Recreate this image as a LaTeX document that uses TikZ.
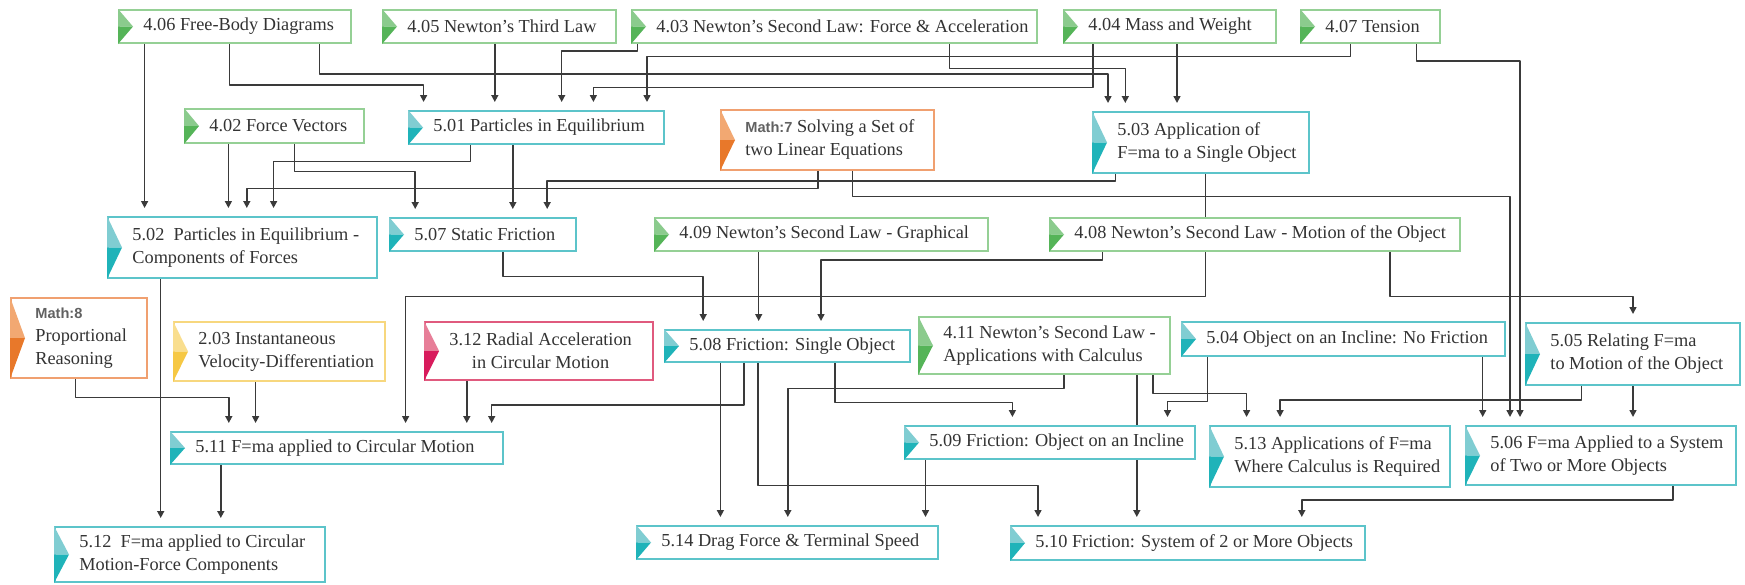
\documentclass[tikz,border=0pt]{standalone}
\usepackage{fontspec}
\setmainfont{Liberation Serif}
\newfontfamily\msans{Liberation Sans}
\usetikzlibrary{fit,arrows.meta,backgrounds}
\definecolor{txt}{HTML}{333333}
\definecolor{lnk}{HTML}{3A3A3A}
\definecolor{gb}{HTML}{95D095}\definecolor{gt}{HTML}{8BCB8D}\definecolor{gd}{HTML}{55B458}
\definecolor{tb}{HTML}{5CC4CA}\definecolor{tt}{HTML}{80CDD2}\definecolor{td}{HTML}{1FB3B9}
\definecolor{ob}{HTML}{F0A070}\definecolor{ot}{HTML}{F2A872}\definecolor{od}{HTML}{E8782A}
\definecolor{yb}{HTML}{F7D77E}\definecolor{yt}{HTML}{F9DE8E}\definecolor{yd}{HTML}{F6C844}
\definecolor{pb}{HTML}{E05A7E}\definecolor{pt}{HTML}{E77E98}\definecolor{pd}{HTML}{D81B5C}
\newcommand\lblfont{\fontsize{9.15pt}{11.5pt}\selectfont}
\newcommand\mtag[1]{{\msans\bfseries\fontsize{7.3pt}{11.5pt}\selectfont\color{black!62}#1}}
\tikzset{
  conn/.style={draw=lnk, line width=0.75pt, line join=round,
    -{Triangle[length=3.5pt,width=3.5pt]}, shorten >=4pt},
  boxframe/.style={draw=#1, line width=1pt, fill=white, inner sep=0pt},
  lbl/.style={anchor=west, inner sep=0pt, align=left, text=txt, font=\lblfont},
}
% name, colour prefix, x1, y1, x2, y2, text ; optional: label options
\newcommand{\topic}[8][]{%
  \node[fit={(#4,#5) (#6,#7)}, boxframe=#3b] (#2) {};
  \fill[#3t] (#2.north west) -- ([xshift=7.5pt]#2.west) -- (#2.west) -- cycle;
  \fill[#3d] (#2.west) -- ([xshift=7.5pt]#2.west) -- (#2.south west) -- cycle;
  \node[lbl,#1] (#2-t) at ([xshift=12.5pt]#2.west) {#8};
}
\newcommand{\vlink}[3]{\draw[conn] (#1.south -| #3,0) -- (#2.north -| #3,0);}
\newcommand{\elink}[5]{\draw[conn] (#1.south -| #3,0) |- (#5,#4) -- (#2.north -| #5,0);}
\begin{document}
\begin{tikzpicture}[x=0.5pt,y=-0.5pt]
\useasboundingbox (0,0) rectangle (1745,584);
% row 1
\topic{n406}{g}{119}{10}{351}{43}{4.06 Free-Body Diagrams}
\topic{n405}{g}{383}{10}{616}{43}{4.05 Newton's Third Law}
\topic{n403}{g}{632}{10}{1037}{43}{4.03 Newton's Second Law: Force \& Acceleration}
\topic{n404}{g}{1064}{10}{1276}{43}{4.04 Mass and Weight}
\topic{n407}{g}{1301}{10}{1440}{43}{4.07 Tension}
% row 2
\topic{n402}{g}{185}{109}{364}{143}{4.02 Force Vectors}
\topic{n501}{t}{409}{111}{664}{144}{5.01 Particles in Equilibrium}
\topic{m7}{o}{721}{110}{934}{170}{\mtag{Math:7} Solving a Set of\\two Linear Equations}
\topic{n503}{t}{1093}{112}{1309}{173}{5.03 Application of\\F=ma to a Single Object}
% row 3
\topic{n502}{t}{108}{217}{377}{278}{5.02\ \ Particles in Equilibrium -\\Components of Forces}
\topic{n507}{t}{390}{218}{576}{251}{5.07 Static Friction}
\topic{n409}{g}{655}{218}{988}{251}{4.09 Newton's Second Law - Graphical}
\topic{n408}{g}{1050}{218}{1460}{251}{4.08 Newton's Second Law - Motion of the Object}
% row 4
\topic{m8}{o}{11}{298}{147}{378}{\mtag{Math:8}\\Proportional\\Reasoning}
\topic{n203}{y}{174}{322}{385}{381}{2.03 Instantaneous\\Velocity-Differentiation}
\topic[align=center]{n312}{p}{425}{322}{653}{380}{3.12 Radial Acceleration\\in Circular Motion}
\topic{n508}{t}{665}{330}{910}{362}{5.08 Friction: Single Object}
\topic{n411}{g}{919}{317}{1170}{374}{4.11 Newton's Second Law -\\Applications with Calculus}
\topic{n504}{t}{1182}{322}{1505}{356}{5.04 Object on an Incline: No Friction}
\topic{n505}{t}{1526}{323}{1740}{385}{5.05 Relating F=ma\\to Motion of the Object}
% row 5
\topic{n511}{t}{171}{432}{503}{464}{5.11 F=ma applied to Circular Motion}
\topic{n509}{t}{905}{426}{1195}{459}{5.09 Friction: Object on an Incline}
\topic{n513}{t}{1210}{426}{1450}{487}{5.13 Applications of F=ma\\Where Calculus is Required}
\topic{n506}{t}{1466}{426}{1736}{485}{5.06 F=ma Applied to a System\\of Two or More Objects}
% row 6
\topic{n512}{t}{55}{527}{325}{582}{5.12\ \ F=ma applied to Circular\\Motion-Force Components}
\topic{n514}{t}{637}{526}{938}{559}{5.14 Drag Force \& Terminal Speed}
\topic{n510}{t}{1011}{526}{1365}{560}{5.10 Friction: System of 2 or More Objects}
% connectors
\begin{scope}[on background layer]
\vlink{n406}{n502}{144.6}
\elink{n406}{n501}{229.6}{85}{423.6}
\elink{n406}{n503}{319.5}{74}{1108}
\vlink{n405}{n501}{494.8}
\elink{n403}{n501}{637.4}{51}{561.7}
\elink{n403}{n503}{949.3}{68.3}{1125.3}
\elink{n404}{n501}{1092.8}{87.3}{593.4}
\vlink{n404}{n503}{1177}
\elink{n407}{n501}{1350.3}{56.7}{647}
\elink{n407}{n506}{1416.7}{61}{1520}
\vlink{n402}{n502}{228.4}
\elink{n402}{n507}{294.6}{171.7}{415.2}
\elink{n501}{n502}{470.7}{161.7}{273.6}
\vlink{n501}{n507}{512.8}
\elink{m7}{n502}{818}{188.3}{246.8}
\elink{m7}{n506}{852.4}{196.7}{1510}
\elink{n503}{n507}{1115.7}{181}{547.2}
\elink{n503}{n511}{1205.5}{296.5}{405.6}
\elink{n408}{n505}{1390.2}{296.5}{1633}
\elink{n507}{n508}{503.2}{276.7}{703.2}
\vlink{n409}{n508}{758.7}
\elink{n408}{n508}{1102.3}{260}{821}
\elink{m8}{n511}{75.4}{397.3}{228.8}
\vlink{n203}{n511}{255.6}
\vlink{n312}{n511}{466.8}
\elink{n508}{n511}{743.8}{405}{491.7}
\vlink{n502}{n512}{160.7}
\vlink{n511}{n512}{220.8}
\vlink{n508}{n514}{720.4}
\elink{n508}{n510}{757.9}{485.7}{1038}
\elink{n508}{n509}{835.2}{402.3}{1012.4}
\elink{n411}{n514}{1064}{388.3}{787.8}
\vlink{n411}{n510}{1136.8}
\elink{n411}{n513}{1152.8}{393.3}{1246.6}
\elink{n504}{n509}{1207.4}{401.7}{1167.5}
\vlink{n504}{n506}{1482.7}
\elink{n505}{n513}{1581.6}{400}{1280.1}
\vlink{n505}{n506}{1633}
\vlink{n509}{n514}{925.5}
\elink{n506}{n510}{1673}{500}{1301.8}
\end{scope}
\end{tikzpicture}
\end{document}
